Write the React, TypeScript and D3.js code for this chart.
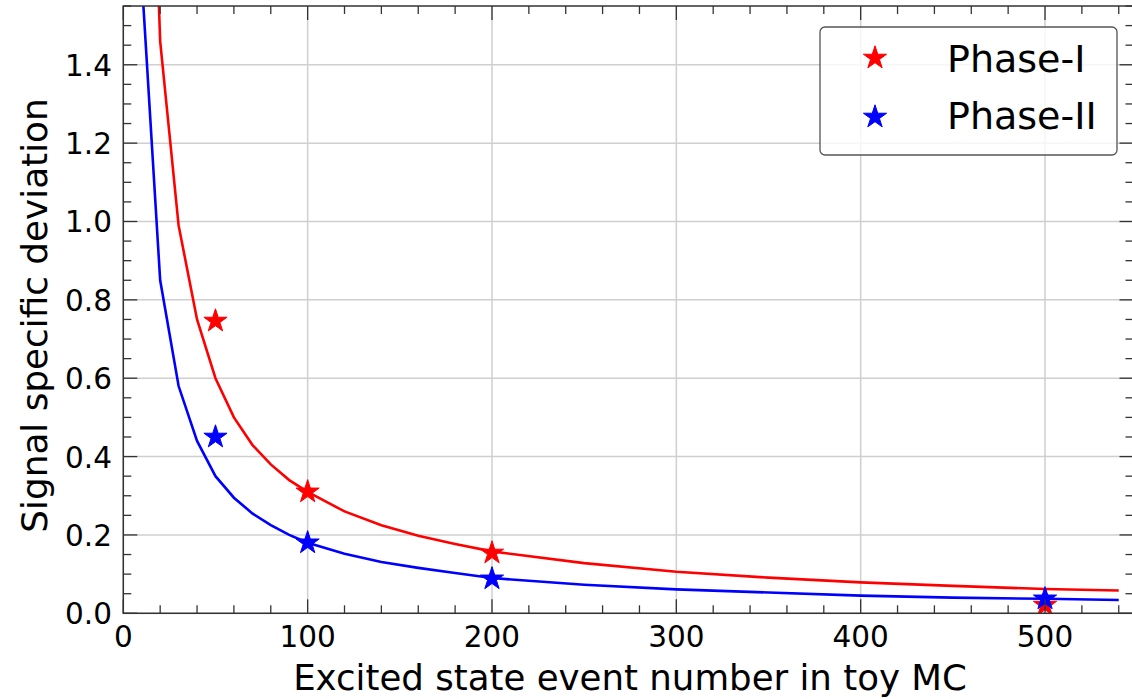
import React from "react";
import * as d3 from "d3";

// Fit curves
const curveX = [10, 20, 30, 40, 50, 60, 70, 80, 90, 100, 120, 140, 160, 180, 200, 250, 300, 350, 400, 450, 500, 540];
const phase1Curve = [2.8, 1.46, 0.99, 0.75, 0.60, 0.50, 0.43, 0.38, 0.34, 0.31, 0.26, 0.225, 0.198, 0.177, 0.158, 0.128, 0.106, 0.091, 0.079, 0.070, 0.062, 0.058];
const phase2Curve = [1.62, 0.85, 0.58, 0.44, 0.35, 0.295, 0.255, 0.225, 0.200, 0.180, 0.152, 0.131, 0.116, 0.103, 0.090, 0.073, 0.061, 0.053, 0.045, 0.040, 0.037, 0.034];

// Toy MC points
const pointX = [50, 100, 200, 500];
const phase1Points = [0.746, 0.31, 0.154, 0.021];
const phase2Points = [0.45, 0.18, 0.088, 0.037];

const xMajorTicks = [0, 100, 200, 300, 400, 500];
const yMajorTicks = [0.0, 0.2, 0.4, 0.6, 0.8, 1.0, 1.2, 1.4];

const seriesNames = ["Phase-I", "Phase-II"];
const seriesColors = ["#ff0000", "#0000ff"];

const W = 1132;
const H = 699;
const L = 123.3;
const R = 1133.5;
const T = 6;
const B = 613.3;

function starPath(r: number) {
  const pts: string[] = [];
  const inner = r * 0.381966;
  for (let i = 0; i < 10; i++) {
    const rad = i % 2 === 0 ? r : inner;
    const a = -Math.PI / 2 + (i * Math.PI) / 5;
    pts.push(`${(rad * Math.cos(a)).toFixed(2)},${(rad * Math.sin(a)).toFixed(2)}`);
  }
  return "M" + pts.join("L") + "Z";
}

export default function App() {
  const x = d3.scaleLinear().domain([0, 548]).range([L, R]);
  const y = d3.scaleLinear().domain([0, 1.55]).range([B, T]);
  const xMinor = d3.range(0, 548, 20).filter((v) => v % 100 !== 0);
  const yMinor = d3.range(0, 1.551, 0.05).filter((v) => Math.abs(v / 0.2 - Math.round(v / 0.2)) > 1e-6);
  const line = d3
    .line<[number, number]>()
    .x((d) => x(d[0]))
    .y((d) => y(d[1]));
  const curves = [phase1Curve, phase2Curve];
  const points = [phase1Points, phase2Points];
  const star = starPath(12.2);
  const font = "DejaVu Sans, sans-serif";
  const axisColor = "#333333";
  const majorLen = 14;
  const minorLen = 8;

  return (
    <svg
      width={W}
      height={H}
      style={{ position: "absolute", left: 0, top: 0, background: "#fff" }}
      fontFamily={font}
    >
      <defs>
        <clipPath id="plotclip">
          <rect x={L} y={T} width={R - L} height={B - T} />
        </clipPath>
      </defs>
      <rect x={0} y={0} width={W} height={H} fill="#fff" />
      {/* grid */}
      <g stroke="#cfcfcf" strokeWidth={1.5}>
        {xMajorTicks.map((v) => (
          <line key={"gx" + v} x1={x(v)} x2={x(v)} y1={T} y2={B} />
        ))}
        {yMajorTicks.map((v) => (
          <line key={"gy" + v} x1={L} x2={R} y1={y(v)} y2={y(v)} />
        ))}
      </g>
      {/* curves */}
      <g clipPath="url(#plotclip)" fill="none" strokeWidth={2.6}>
        {curves.map((c, i) => (
          <path
            key={"c" + i}
            d={line(curveX.map((xv, j) => [xv, c[j]] as [number, number])) || ""}
            stroke={seriesColors[i]}
          />
        ))}
      </g>
      {/* stars */}
      <g clipPath="url(#plotclip)">
        {points.map((p, i) =>
          p.map((v, j) => (
            <path
              key={"s" + i + "-" + j}
              d={star}
              transform={`translate(${x(pointX[j])},${y(v)})`}
              fill={seriesColors[i]}
              stroke={seriesColors[i]}
              strokeWidth={1}
            />
          ))
        )}
      </g>
      {/* ticks */}
      <g stroke={axisColor} strokeWidth={1.3}>
        {xMajorTicks.map((v) => (
          <g key={"tx" + v}>
            <line x1={x(v)} x2={x(v)} y1={B} y2={B - majorLen} />
            <line x1={x(v)} x2={x(v)} y1={T} y2={T + majorLen} />
          </g>
        ))}
        {xMinor.map((v) => (
          <g key={"mx" + v}>
            <line x1={x(v)} x2={x(v)} y1={B} y2={B - minorLen} />
            <line x1={x(v)} x2={x(v)} y1={T} y2={T + minorLen} />
          </g>
        ))}
        {yMajorTicks.map((v) => (
          <g key={"ty" + v}>
            <line x1={L} x2={L + majorLen} y1={y(v)} y2={y(v)} />
            <line x1={R} x2={R - majorLen} y1={y(v)} y2={y(v)} />
          </g>
        ))}
        {yMinor.map((v) => (
          <g key={"my" + v}>
            <line x1={L} x2={L + minorLen} y1={y(v)} y2={y(v)} />
            <line x1={R} x2={R - minorLen} y1={y(v)} y2={y(v)} />
          </g>
        ))}
      </g>
      {/* spines */}
      <rect x={L} y={T} width={R - L} height={B - T} fill="none" stroke={axisColor} strokeWidth={1.5} />
      {/* tick labels */}
      <g fontSize={29.5} fill="#000">
        {xMajorTicks.map((v) => (
          <text key={"lx" + v} x={x(v)} y={647} textAnchor="middle">
            {String(v)}
          </text>
        ))}
        {yMajorTicks.map((v) => (
          <text key={"ly" + v} x={112} y={y(v) + 11} textAnchor="end">
            {v.toFixed(1)}
          </text>
        ))}
      </g>
      {/* axis labels */}
      <text x={630} y={690} textAnchor="middle" fontSize={35.6} fill="#000">
        Excited state event number in toy MC
      </text>
      <text
        transform={`translate(47,315.5) rotate(-90)`}
        textAnchor="middle"
        fontSize={35.8}
        fill="#000"
      >
        Signal specific deviation
      </text>
      {/* legend */}
      <g>
        <rect x={820} y={27} width={297} height={128} rx={5} fill="#fff" fillOpacity={0.8} stroke="#555" strokeWidth={1.3} />
        {seriesNames.map((n, i) => (
          <g key={"lg" + i}>
            <path d={star} transform={`translate(875,${58 + i * 59})`} fill={seriesColors[i]} stroke={seriesColors[i]} strokeWidth={1} />
            <text x={947} y={72 + i * 57} fontSize={38} fill="#000">
              {n}
            </text>
          </g>
        ))}
      </g>
    </svg>
  );
}
